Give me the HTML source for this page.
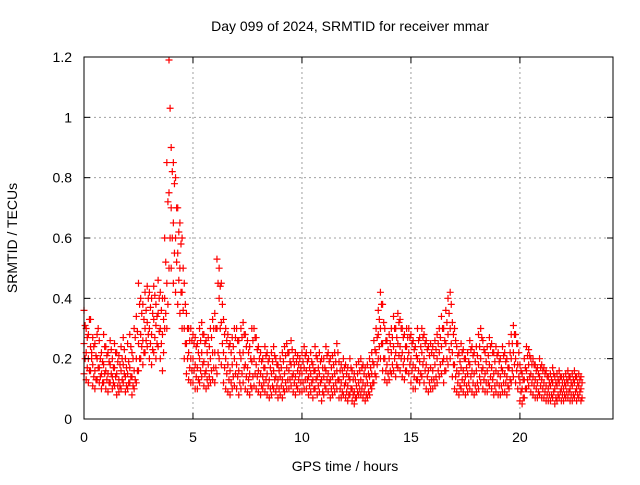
<!DOCTYPE html>
<html><head><meta charset="utf-8"><style>
html,body{margin:0;padding:0;background:#fff;}
svg text{font-family:"Liberation Sans",sans-serif;font-size:14px;fill:#000;}
</style></head><body>
<svg id="chart" width="640" height="480" viewBox="0 0 640 480" xmlns="http://www.w3.org/2000/svg">
<rect width="640" height="480" fill="#fff"/>
<g id="grid"></g>
<g id="pts"></g>
<g id="axes"></g>
<text x="350" y="31" text-anchor="middle">Day 099 of 2024, SRMTID for receiver mmar</text>
<text x="345" y="471" text-anchor="middle">GPS time / hours</text>
<text transform="translate(17,238) rotate(-90)" text-anchor="middle">SRMTID / TECUs</text>
</svg>
<script>
const xTicks=[0,5,10,15,20];
const yTicks=[0,0.2,0.4,0.6,0.8,1,1.2];
const yTickLabels=["0","0.2","0.4","0.6","0.8","1","1.2"];
const tStep=0.1;
const seriesMid=[.25,.22,.2,.24,.18,.16,.2,.17,.15,.18,
.16,.15,.18,.14,.17,.15,.13,.16,.18,.14,
.15,.17,.14,.16,.2,.25,.28,.26,.3,.32,
.3,.28,.33,.31,.35,.3,.28,.4,.45,.75,
.7,.65,.6,.55,.5,.42,.3,.25,.22,.2,
.2,.18,.17,.2,.22,.19,.16,.18,.2,.22,
.22,.3,.4,.32,.22,.2,.18,.16,.18,.2,
.18,.16,.2,.22,.18,.17,.15,.19,.2,.18,
.16,.15,.14,.17,.15,.13,.15,.16,.14,.13,
.14,.13,.15,.17,.16,.18,.15,.14,.16,.15,
.15,.17,.16,.14,.15,.13,.16,.14,.15,.13,
.14,.16,.15,.13,.14,.15,.16,.13,.12,.14,
.12,.11,.13,.1,.09,.11,.12,.13,.12,.11,
.12,.14,.15,.18,.22,.28,.3,.25,.2,.18,
.2,.22,.24,.22,.25,.24,.22,.2,.24,.22,
.2,.18,.17,.2,.19,.22,.2,.18,.16,.17,
.16,.18,.2,.22,.24,.2,.25,.28,.3,.22,
.18,.16,.15,.17,.16,.14,.15,.18,.16,.15,
.16,.18,.2,.17,.15,.16,.18,.17,.15,.16,
.15,.14,.16,.15,.14,.17,.2,.22,.2,.18,
.12,.1,.13,.16,.18,.15,.14,.13,.12,.14,
.13,.12,.11,.1,.11,.12,.1,.11,.12,.1,
.1,.11,.12,.1,.11,.12,.1,.11,.1];
const seriesHigh=[.36,.3,.28,.33,.27,.25,.28,.26,.22,.28,
.24,.22,.26,.2,.25,.22,.21,.24,.27,.2,
.25,.28,.22,.3,.34,.45,.4,.38,.42,.44,
.42,.4,.44,.38,.46,.42,.4,.6,.85,1.19,
.9,.85,.8,.7,.65,.6,.45,.35,.3,.3,
.28,.27,.25,.3,.32,.28,.26,.27,.3,.33,
.35,.53,.5,.45,.33,.3,.28,.25,.27,.3,
.3,.26,.3,.32,.28,.26,.24,.3,.3,.27,
.24,.22,.2,.24,.22,.2,.22,.24,.2,.18,
.2,.22,.24,.25,.22,.26,.2,.22,.21,.2,
.22,.24,.22,.2,.22,.18,.24,.2,.22,.2,
.2,.24,.22,.2,.21,.22,.25,.19,.18,.2,
.18,.17,.2,.16,.15,.18,.19,.2,.18,.17,
.18,.2,.22,.26,.3,.36,.42,.38,.3,.26,
.28,.3,.34,.3,.35,.33,.3,.28,.3,.3,
.28,.26,.24,.3,.27,.3,.28,.26,.24,.25,
.24,.26,.28,.3,.34,.3,.36,.4,.42,.32,
.3,.24,.22,.25,.23,.2,.22,.26,.24,.22,
.24,.28,.3,.26,.22,.24,.27,.25,.22,.24,
.22,.2,.24,.22,.2,.25,.28,.31,.28,.25,
.18,.15,.2,.24,.23,.2,.2,.18,.17,.2,
.18,.17,.16,.14,.15,.17,.14,.15,.16,.14,
.14,.15,.16,.14,.15,.16,.14,.15,.14];
const seriesLow=[.15,.13,.12,.16,.11,.1,.13,.12,.1,.12,
.1,.09,.12,.1,.11,.08,.09,.1,.12,.09,
.1,.12,.08,.1,.12,.16,.2,.18,.22,.24,
.2,.18,.22,.2,.24,.2,.16,.3,.3,.5,
.5,.45,.42,.38,.35,.3,.2,.15,.13,.12,
.12,.1,.1,.12,.14,.11,.1,.11,.12,.13,
.12,.15,.2,.18,.12,.1,.09,.08,.1,.11,
.1,.08,.1,.12,.1,.09,.08,.1,.11,.1,
.09,.08,.1,.09,.08,.07,.08,.1,.09,.07,
.08,.07,.09,.1,.1,.11,.09,.08,.1,.09,
.09,.1,.1,.08,.09,.07,.1,.08,.09,.06,
.08,.1,.09,.07,.08,.09,.1,.07,.07,.08,
.07,.06,.08,.06,.05,.07,.08,.08,.07,.06,
.07,.08,.1,.12,.14,.2,.2,.16,.13,.12,
.13,.15,.16,.14,.17,.16,.14,.13,.16,.15,
.12,.1,.1,.13,.12,.14,.12,.1,.09,.1,
.1,.11,.12,.14,.15,.12,.16,.18,.2,.14,
.1,.09,.08,.1,.09,.08,.09,.1,.09,.08,
.09,.1,.12,.1,.09,.09,.11,.1,.08,.09,
.08,.08,.09,.09,.08,.1,.12,.14,.12,.1,
.06,.05,.07,.1,.11,.09,.08,.07,.07,.08,
.07,.07,.06,.06,.06,.07,.05,.06,.07,.06,
.06,.07,.07,.06,.06,.07,.06,.07,.06];
/* second receiver pass, sampled half a step later */
const seriesUpper2=[.31,.27,.33,.22,.24,.21,.3,.2,.19,.24,
.21,.19,.23,.17,.22,.19,.18,.2,.23,.17,
.19,.24,.2,.27,.29,.38,.35,.33,.36,.4,
.37,.35,.41,.34,.4,.36,.33,.52,.72,1.03,
.82,.78,.7,.62,.58,.5,.38,.3,.26,.26,
.25,.24,.22,.26,.28,.25,.22,.24,.27,.3,
.3,.45,.44,.38,.28,.26,.24,.22,.24,.27,
.26,.22,.27,.28,.24,.22,.2,.26,.27,.23,
.2,.19,.17,.21,.19,.17,.19,.21,.18,.16,
.17,.19,.21,.22,.19,.23,.18,.19,.18,.17,
.19,.21,.19,.17,.19,.16,.21,.17,.19,.17,
.17,.21,.19,.17,.18,.19,.22,.16,.16,.17,
.15,.14,.17,.13,.13,.15,.16,.17,.15,.14,
.15,.17,.19,.23,.27,.33,.38,.32,.26,.23,
.25,.27,.3,.27,.32,.3,.27,.24,.27,.27,
.25,.23,.21,.26,.24,.27,.25,.23,.21,.22,
.21,.23,.25,.27,.3,.26,.32,.35,.38,.28,
.26,.21,.19,.22,.2,.17,.19,.23,.21,.19,
.21,.24,.27,.23,.19,.21,.24,.22,.19,.21,
.19,.17,.21,.19,.17,.22,.25,.28,.25,.22,
.16,.13,.17,.21,.21,.18,.18,.16,.15,.17,
.16,.15,.14,.12,.13,.15,.12,.13,.14,.12,
.12,.13,.14,.12,.13,.14,.12,.13,.12];
const seriesLower2=[.2,.17,.16,.2,.14,.13,.17,.14,.12,.15,
.13,.12,.15,.12,.14,.11,.11,.13,.15,.11,
.12,.14,.11,.13,.16,.2,.24,.22,.26,.28,
.25,.23,.27,.25,.29,.25,.22,.35,.38,.6,
.6,.55,.52,.46,.42,.36,.25,.2,.17,.16,
.16,.14,.13,.16,.18,.15,.13,.14,.16,.17,
.17,.22,.3,.25,.17,.15,.13,.12,.14,.15,
.14,.12,.15,.17,.14,.13,.11,.14,.15,.14,
.12,.11,.12,.13,.11,.1,.11,.13,.11,.1,
.11,.1,.12,.13,.13,.14,.12,.11,.13,.12,
.12,.13,.13,.11,.12,.1,.13,.11,.12,.09,
.11,.13,.12,.1,.11,.12,.13,.1,.09,.11,
.09,.08,.1,.08,.07,.09,.1,.1,.09,.08,
.09,.11,.12,.15,.18,.24,.25,.2,.16,.15,
.16,.18,.2,.18,.21,.2,.18,.16,.2,.18,
.16,.14,.13,.16,.15,.18,.16,.14,.12,.13,
.13,.14,.16,.18,.19,.16,.2,.23,.25,.18,
.14,.12,.11,.13,.12,.11,.12,.14,.12,.11,
.12,.14,.16,.13,.12,.12,.14,.13,.11,.12,
.11,.11,.12,.12,.11,.13,.16,.18,.16,.14,
.09,.07,.1,.13,.14,.12,.11,.1,.09,.11,
.1,.09,.08,.08,.08,.09,.07,.08,.09,.08,
.08,.09,.09,.08,.08,.09,.08,.09,.07];

const L=84,R=613,T=57,B=419,XMAX=24.27,YMAX=1.2;
const xs=v=>L+(R-L)*v/XMAX;
const ys=v=>B-(B-T)*v/YMAX;
const NS="http://www.w3.org/2000/svg";
function mk(tag,attrs,parent){const e=document.createElementNS(NS,tag);for(const k in attrs)e.setAttribute(k,attrs[k]);parent.appendChild(e);return e;}
const grid=document.getElementById('grid'),axes=document.getElementById('axes'),pts=document.getElementById('pts');
xTicks.forEach((v,i)=>{
  const x=xs(v);
  if(v>0){const g=mk('line',{x1:x,x2:x,y1:T,y2:B,stroke:'#a0a0a0','stroke-dasharray':'2,3'},grid);
  
  }
  mk('line',{x1:x,x2:x,y1:B,y2:B-6,stroke:'#000'},axes);
  mk('line',{x1:x,x2:x,y1:T,y2:T+6,stroke:'#000'},axes);
  const t=mk('text',{x:x,y:B+23,'text-anchor':'middle'},axes);t.textContent=String(v);
  
  
});
yTicks.forEach((v,i)=>{
  const y=ys(v);
  if(v>0&&v<YMAX){const g=mk('line',{x1:L,x2:R,y1:y,y2:y,stroke:'#a0a0a0','stroke-dasharray':'2,3'},grid);
  
  }
  mk('line',{x1:L,x2:L+6,y1:y,y2:y,stroke:'#000'},axes);
  mk('line',{x1:R,x2:R-6,y1:y,y2:y,stroke:'#000'},axes);
  const t=mk('text',{x:L-12,y:y+5,'text-anchor':'end'},axes);t.textContent=yTickLabels[i];
  
  
});
const frame=mk('rect',{x:L,y:T,width:R-L,height:B-T,fill:'none',stroke:'#000'},axes);


function drawSeries(arr,offset){
  let d='';
  arr.forEach((v,i)=>{const x=xs(i*tStep+offset),y=ys(v);d+=`M${x-3.5} ${y}h7M${x} ${y-3.5}v7`;});
  const p=mk('path',{d:d,stroke:'#f00','stroke-width':1.2,fill:'none'},pts);
  
  
}
drawSeries(seriesLow,0);
drawSeries(seriesMid,0);
drawSeries(seriesHigh,0);
drawSeries(seriesUpper2,0.05);
drawSeries(seriesLower2,0.05);
</script>
</body></html>
